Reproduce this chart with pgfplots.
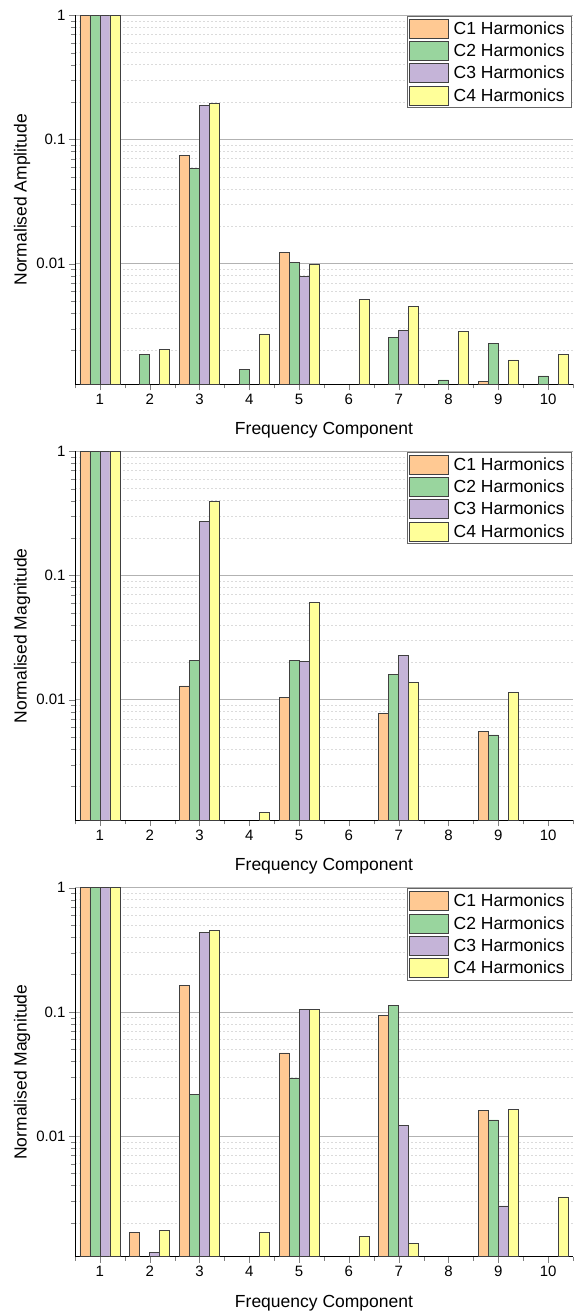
\documentclass[border=0pt]{standalone}
\usepackage{fontspec}
\setmainfont{Liberation Sans}
\usepackage{pgfplots}
\pgfplotsset{compat=1.18}
\definecolor{cA}{HTML}{FFC993}
\definecolor{cB}{HTML}{99D59E}
\definecolor{cC}{HTML}{C5B4D8}
\definecolor{cD}{HTML}{FFFF99}
\pgfplotsset{
  every axis/.append style={
    width=498pt, height=369pt, scale only axis,
    anchor=south west,
    xmin=0.5, xmax=10.5,
    axis x line*=bottom, axis y line*=left,
    axis line style={black, line width=1pt},
    tick align=outside,
    major tick length=6pt, minor tick length=4pt,
    xtick={1,2,3,4,5,6,7,8,9,10},
    minor xtick={0.5,1.5,2.5,3.5,4.5,5.5,6.5,7.5,8.5,9.5,10.5},
    ytick={0.01,0.1,1}, yticklabels={0.01,0.1,1},
    minor ytick={0.002,0.003,0.004,0.005,0.006,0.007,0.008,0.009,0.02,0.03,0.04,0.05,0.06,0.07,0.08,0.09,0.2,0.3,0.4,0.5,0.6,0.7,0.8,0.9},
    ymajorgrids, yminorgrids,
    major grid style={black!30, line width=0.7pt},
    minor grid style={black!14, line width=0.55pt, dash pattern=on 2pt off 2pt},
    /pgf/number format/assume math mode=true,
    tick label style={font=\fontsize{15}{18}\selectfont},
    label style={font=\fontsize{17.5}{21}\selectfont},
    xlabel style={at={(axis description cs:0.5,-0.125)}, anchor=center},
    ylabel style={at={(axis description cs:-0.1064,0.5)}, anchor=center},
    legend cell align=left,
    legend style={at={(axis description cs:0.998,0.998)}, anchor=north east,
      draw=black!60, line width=0.8pt, font=\fontsize{17.5}{21}\selectfont,
      inner sep=2.5pt, row sep=2.4pt,
      nodes={inner xsep=4.5pt, inner ysep=0.8pt}},
  },
  every axis plot/.append style={draw=black!75, line width=0.8pt},
}
\begin{document}
\begin{tikzpicture}
\useasboundingbox (0,0) rectangle (574pt,1316pt);
% Panel 1
\begin{axis}[at={(75pt,931.7pt)}, ymode=log, ymin=0.00107, ymax=1, log origin y=infty,
  ybar=0pt, bar width=10pt, xlabel={Frequency Component}, ylabel={Normalised Amplitude},
  legend image code/.code={\draw[#1] (0pt,-9.5pt) rectangle (39pt,9.5pt);}]
\addplot[fill=cA] coordinates {(1,1) (3,0.0745) (5,0.0123) (9,0.00113)};
\addplot[fill=cB] coordinates {(1,1) (2,0.00186) (3,0.0582) (4,0.00141) (5,0.0103) (7,0.00253) (8,0.00116) (9,0.00228) (10,0.00125)};
\addplot[fill=cC] coordinates {(1,1) (3,0.189) (5,0.00796) (7,0.0029)};
\addplot[fill=cD] coordinates {(1,1) (2,0.00204) (3,0.195) (4,0.00272) (5,0.00987) (6,0.00517) (7,0.00452) (8,0.00287) (9,0.00168) (10,0.00185)};
\legend{C1 Harmonics, C2 Harmonics, C3 Harmonics, C4 Harmonics}
\end{axis}
% Panel 2
\begin{axis}[at={(75pt,495.7pt)}, ymode=log, ymin=0.00107, ymax=1, log origin y=infty,
  ybar=0pt, bar width=10pt, xlabel={Frequency Component}, ylabel={Normalised Magnitude},
  legend image code/.code={\draw[#1] (0pt,-9.5pt) rectangle (39pt,9.5pt);}]
\addplot[fill=cA] coordinates {(1,1) (3,0.0129) (5,0.0104) (7,0.00774) (9,0.00554)};
\addplot[fill=cB] coordinates {(1,1) (3,0.0206) (5,0.0206) (7,0.016) (9,0.00521)};
\addplot[fill=cC] coordinates {(1,1) (3,0.272) (5,0.0202) (7,0.0229)};
\addplot[fill=cD] coordinates {(1,1) (3,0.394) (4,0.00124) (5,0.0607) (7,0.0137) (9,0.0114)};
\legend{C1 Harmonics, C2 Harmonics, C3 Harmonics, C4 Harmonics}
\end{axis}
% Panel 3
\begin{axis}[at={(75pt,59.3pt)}, ymode=log, ymin=0.00107, ymax=1, log origin y=infty,
  ybar=0pt, bar width=10pt, xlabel={Frequency Component}, ylabel={Normalised Magnitude},
  legend image code/.code={\draw[#1] (0pt,-9.5pt) rectangle (39pt,9.5pt);}]
\addplot[fill=cA] coordinates {(1,1) (2,0.00168) (3,0.162) (5,0.0467) (7,0.094) (9,0.016)};
\addplot[fill=cB] coordinates {(1,1) (3,0.0217) (5,0.0294) (7,0.113) (9,0.0135)};
\addplot[fill=cC] coordinates {(1,1) (2,0.00116) (3,0.434) (5,0.104) (7,0.0121) (9,0.00274)};
\addplot[fill=cD] coordinates {(1,1) (2,0.00175) (3,0.450) (4,0.00168) (5,0.105) (6,0.00156) (7,0.00137) (9,0.0165) (10,0.00324)};
\legend{C1 Harmonics, C2 Harmonics, C3 Harmonics, C4 Harmonics}
\end{axis}
\end{tikzpicture}
\end{document}
